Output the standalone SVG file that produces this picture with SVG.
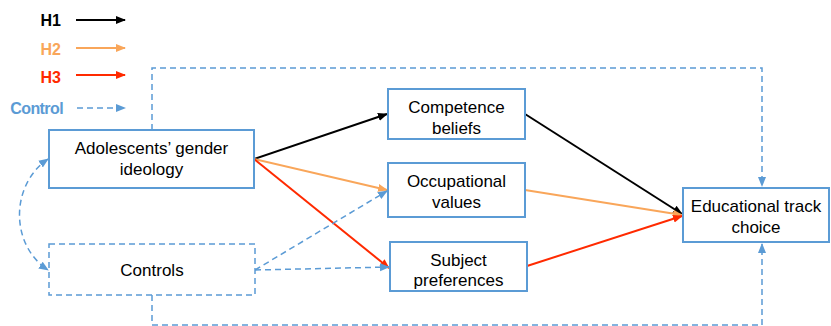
<svg xmlns="http://www.w3.org/2000/svg" width="831" height="326" viewBox="0 0 831 326">
<style>
.box{fill:#fff;stroke:#5B9BD5;stroke-width:2}
.dbox{fill:#fff;stroke:#5B9BD5;stroke-width:1.5;stroke-dasharray:6 4}
.t{font-family:"Liberation Sans",Arial,sans-serif;font-size:17px;fill:#000;text-anchor:middle}
.lg{font-family:"Liberation Sans",Arial,sans-serif;font-size:16px;font-weight:bold;text-anchor:end}
.h1{stroke:#000;stroke-width:2;fill:none}
.h2{stroke:#F9A65A;stroke-width:2;fill:none}
.h3{stroke:#FF2A00;stroke-width:2;fill:none}
.ctl{stroke:#5B9BD5;stroke-width:1.5;stroke-dasharray:6 4;fill:none}
</style>
<defs>
<marker id="a1" markerWidth="10" markerHeight="10" refX="9" refY="5" orient="auto" markerUnits="userSpaceOnUse"><path d="M0,1 L10,5 L0,9 Z" fill="#000"/></marker>
<marker id="a2" markerWidth="10" markerHeight="10" refX="9" refY="5" orient="auto" markerUnits="userSpaceOnUse"><path d="M0,1 L10,5 L0,9 Z" fill="#F9A65A"/></marker>
<marker id="a3" markerWidth="10" markerHeight="10" refX="9" refY="5" orient="auto" markerUnits="userSpaceOnUse"><path d="M0,1 L10,5 L0,9 Z" fill="#FF2A00"/></marker>
<marker id="ac" markerWidth="10" markerHeight="10" refX="9" refY="5" orient="auto-start-reverse" markerUnits="userSpaceOnUse"><path d="M0,1 L10,5 L0,9 Z" fill="#5B9BD5"/></marker>
</defs>
<g id="legend">
<text class="lg" x="61" y="26" fill="#000">H1</text>
<line class="h1" x1="76" y1="20" x2="125" y2="20" marker-end="url(#a1)"/>
<text class="lg" x="61" y="55" fill="#F9A65A">H2</text>
<line class="h2" x1="76" y1="48" x2="125" y2="48" marker-end="url(#a2)"/>
<text class="lg" x="61" y="83" fill="#FF2A00">H3</text>
<line class="h3" x1="76" y1="75" x2="125" y2="75" marker-end="url(#a3)"/>
<text class="lg" x="63" y="114" fill="#5B9BD5" style="letter-spacing:-0.6px">Control</text>
<line class="ctl" x1="77" y1="108" x2="125" y2="108" marker-end="url(#ac)"/>
</g>
<g id="connectors">
<path class="ctl" d="M152,130 V68 H762 V186" marker-end="url(#ac)"/>
<path class="ctl" d="M152,295 V325 H762 V244" marker-end="url(#ac)"/>
<path class="ctl" d="M48,159 C10,185 10,245 48,270" marker-start="url(#ac)" marker-end="url(#ac)"/>
<line class="h1" x1="254" y1="159" x2="387" y2="114" marker-end="url(#a1)"/>
<line class="h2" x1="254" y1="159" x2="387" y2="190" marker-end="url(#a2)"/>
<line class="h3" x1="254" y1="159" x2="389" y2="268" marker-end="url(#a3)"/>
<line class="ctl" x1="255" y1="270" x2="387" y2="191" marker-end="url(#ac)"/>
<line class="ctl" x1="255" y1="270" x2="389" y2="267" marker-end="url(#ac)"/>
<line class="h1" x1="525" y1="114" x2="682" y2="214" marker-end="url(#a1)"/>
<line class="h2" x1="525" y1="190" x2="682" y2="215" marker-end="url(#a2)"/>
<line class="h3" x1="527" y1="266" x2="682" y2="216" marker-end="url(#a3)"/>
</g>
<g id="adolescents">
<rect class="box" x="49" y="130" width="205" height="58"/>
<text class="t" x="151.5" y="154">Adolescents’ gender</text>
<text class="t" x="151.5" y="175">ideology</text>
</g>
<g id="controls">
<rect class="dbox" x="49" y="244" width="206" height="51"/>
<text class="t" x="152" y="276">Controls</text>
</g>
<g id="competence">
<rect class="box" x="388" y="89" width="137" height="50"/>
<text class="t" x="456.5" y="113">Competence</text>
<text class="t" x="456.5" y="134">beliefs</text>
</g>
<g id="occupational">
<rect class="box" x="388" y="163" width="137" height="54"/>
<text class="t" x="456.5" y="187">Occupational</text>
<text class="t" x="456.5" y="208">values</text>
</g>
<g id="subject">
<rect class="box" x="390" y="242" width="137" height="49"/>
<text class="t" x="458.5" y="266">Subject</text>
<text class="t" x="458.5" y="286">preferences</text>
</g>
<g id="educational">
<rect class="box" x="683" y="188" width="146" height="54"/>
<text class="t" x="756" y="212">Educational track</text>
<text class="t" x="756" y="233">choice</text>
</g>
</svg>
